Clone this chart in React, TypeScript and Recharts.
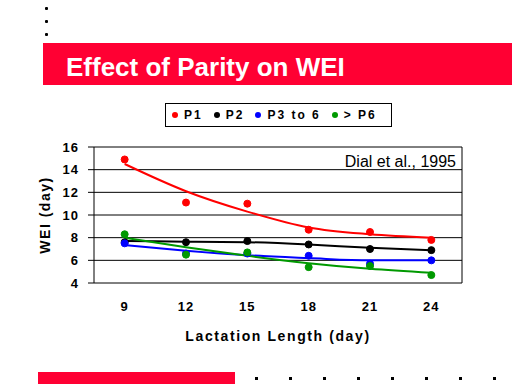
import React from "react";
import { LineChart, Line, XAxis, YAxis, CartesianGrid, ReferenceLine } from "recharts";

const days = [9, 12, 15, 18, 21, 24];
const dayEdges = [7.5, 10.5, 13.5, 16.5, 19.5, 22.5, 25.5];
const weiTicks = [4, 6, 8, 10, 12, 14, 16];

// observed WEI (day)
const p1 = [14.9, 11.1, 11.0, 8.7, 8.5, 7.8];
const p2 = [7.6, 7.6, 7.7, 7.4, 7.0, 6.9];
const p3to6 = [7.5, 6.6, 6.6, 6.4, 5.7, 6.0];
const p6plus = [8.3, 6.5, 6.7, 5.4, 5.5, 4.7];

// trend lines
const p1Fit = [14.5, 12.1, 10.3, 8.9, 8.3, 8.0];
const p2Fit = [7.7, 7.65, 7.6, 7.4, 7.1, 6.9];
const p3to6Fit = [7.35, 6.85, 6.45, 6.2, 6.0, 6.0];
const p6plusFit = [8.0, 7.15, 6.4, 5.75, 5.25, 4.9];

const seriesNames = ["P1", "P2", "P3 to 6", "> P6"];
const seriesColors = ["#ff0000", "#000000", "#0000ff", "#009900"];
const seriesKeys = ["p1", "p2", "p3to6", "p6plus"];

const data = days.map((day, i) => ({
  day,
  p1: p1[i],
  p2: p2[i],
  p3to6: p3to6[i],
  p6plus: p6plus[i],
  p1Fit: p1Fit[i],
  p2Fit: p2Fit[i],
  p3to6Fit: p3to6Fit[i],
  p6plusFit: p6plusFit[i],
}));

const font = '"Liberation Sans", Arial, sans-serif';
const slideRed = "#ff0033";

const App: React.FC = () => {
  return (
    <div
      style={{
        position: "absolute",
        left: 0,
        top: 0,
        width: 512,
        height: 384,
        background: "#fff",
        fontFamily: font,
        overflow: "hidden",
      }}
    >
      {[7, 20, 33].map((y) => (
        <div
          key={y}
          style={{ position: "absolute", left: 45, top: y, width: 3, height: 3, background: "#000", borderRadius: 1 }}
        />
      ))}

      <div
        style={{
          position: "absolute",
          left: 43,
          top: 43,
          width: 469,
          height: 42,
          background: slideRed,
          color: "#fff",
          fontWeight: 700,
          fontSize: 26,
          lineHeight: "30px",
          paddingTop: 9,
          paddingLeft: 23,
          boxSizing: "border-box",
        }}
      >
        Effect of Parity on WEI
      </div>

      <div
        style={{
          position: "absolute",
          left: 165,
          top: 103,
          width: 227,
          height: 24,
          border: "1px solid #000",
          boxSizing: "border-box",
          display: "flex",
          alignItems: "center",
          paddingLeft: 6,
          gap: 11,
          fontSize: 12,
          fontWeight: 700,
          letterSpacing: 2,
        }}
      >
        {seriesNames.map((name, i) => (
          <div key={name} style={{ display: "flex", alignItems: "center" }}>
            <span
              style={{
                display: "inline-block",
                width: 6,
                height: 6,
                borderRadius: 3,
                background: seriesColors[i],
                marginRight: 6,
              }}
            />
            <span>{name}</span>
          </div>
        ))}
      </div>

      <div style={{ position: "absolute", left: 0, top: 0 }}>
        <LineChart width={512} height={384} data={data} margin={{ top: 147, right: 50, bottom: 41, left: 0 }}>
          <CartesianGrid xAxisId="labels" yAxisId="left" vertical={false} stroke="#000" />
          <XAxis
            xAxisId="edges"
            dataKey="day"
            type="number"
            domain={[7.5, 25.5]}
            ticks={dayEdges}
            interval={0}
            height={0}
            tick={false}
            tickSize={6}
            stroke="#000"
            axisLine={{ stroke: "#000" }}
            tickLine={{ stroke: "#000" }}
          />
          <XAxis
            xAxisId="labels"
            dataKey="day"
            type="number"
            domain={[7.5, 25.5]}
            ticks={days}
            interval={0}
            height={60}
            axisLine={false}
            tickLine={false}
            tickSize={6}
            tickMargin={13}
            tick={{ fill: "#000", fontSize: 13, fontWeight: 700, letterSpacing: 1 }}
            label={{
              value: "Lactation Length (day)",
              position: "center",
              dy: 23,
              style: { fill: "#000", fontSize: 14, fontWeight: 700, letterSpacing: 1.6 },
            }}
          />
          <YAxis
            yAxisId="left"
            width={94}
            domain={[4, 16]}
            ticks={weiTicks}
            interval={0}
            tickSize={6}
            tickMargin={9}
            axisLine={{ stroke: "#000" }}
            tickLine={{ stroke: "#000" }}
            tick={{ fill: "#000", fontSize: 13, fontWeight: 700, letterSpacing: 1 }}
            label={{
              value: "WEI (day)",
              angle: -90,
              position: "center",
              dx: -2,
              style: { fill: "#000", fontSize: 14, fontWeight: 700, letterSpacing: 1.5 },
            }}
          />
          <ReferenceLine xAxisId="labels" yAxisId="left" x={25.5} stroke="#000" />
          {seriesKeys.map((key, i) => (
            <Line
              key={key + "Fit"}
              xAxisId="labels"
              yAxisId="left"
              type="monotone"
              dataKey={key + "Fit"}
              stroke={seriesColors[i]}
              strokeWidth={2}
              dot={false}
              activeDot={false}
              isAnimationActive={false}
            />
          ))}
          {seriesKeys.map((key, i) => (
            <Line
              key={key}
              xAxisId="labels"
              yAxisId="left"
              dataKey={key}
              name={seriesNames[i]}
              stroke="none"
              dot={{ r: 3.5, fill: seriesColors[i], stroke: seriesColors[i], strokeWidth: 1 }}
              activeDot={false}
              isAnimationActive={false}
            />
          ))}
        </LineChart>
      </div>

      <div
        style={{
          position: "absolute",
          right: 56,
          top: 153,
          fontSize: 16,
          lineHeight: "18px",
          color: "#000",
        }}
      >
        Dial et al., 1995
      </div>

      <div style={{ position: "absolute", left: 38, top: 372, width: 197, height: 12, background: slideRed }} />
      {[256, 290, 324, 358, 392, 426, 460, 494].map((x) => (
        <div
          key={x}
          style={{ position: "absolute", left: x - 1, top: 377, width: 3, height: 3, background: "#000" }}
        />
      ))}
    </div>
  );
};

export default App;
